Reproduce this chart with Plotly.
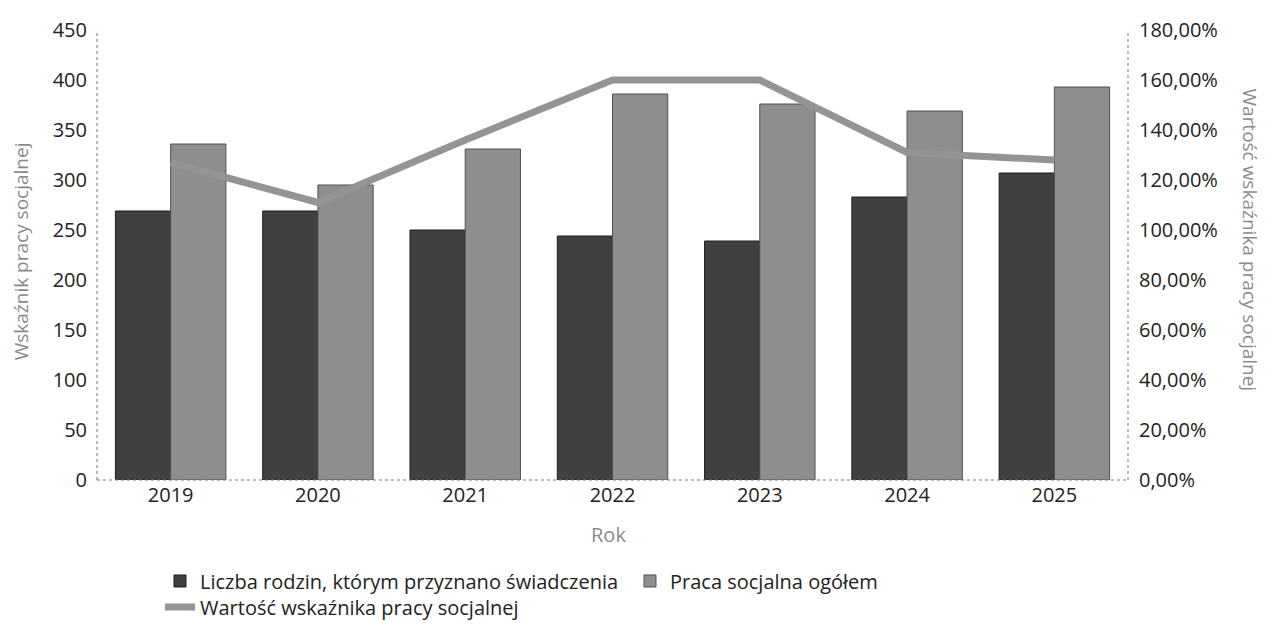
import plotly.graph_objects as go

# Dane.
lata = ['2019', '2020', '2021', '2022', '2023', '2024', '2025']
liczba_rodzin = [269, 269, 250, 244, 239, 283, 307]
praca_socjalna = [336, 295, 331, 386, 376, 369, 393]
wskaznik = [1.27, 1.11, 1.36, 1.60, 1.60, 1.31, 1.28]

font_family = 'Open Sans, Noto Sans, DejaVu Sans, sans-serif'
kolor_tytulu = '#8a8a8a'

fig = go.Figure()

fig.add_trace(go.Bar(
    x=lata,
    y=liczba_rodzin,
    name='Liczba rodzin, którym przyznano świadczenia',
    marker=dict(color='#404040', line=dict(color='#1e1e1e', width=1)),
    legend='legend',
))

fig.add_trace(go.Bar(
    x=lata,
    y=praca_socjalna,
    name='Praca socjalna ogółem',
    marker=dict(color='#8e8e8e', line=dict(color='#505050', width=1)),
    legend='legend',
))

fig.add_trace(go.Scatter(
    x=lata,
    y=wskaznik,
    name='Wartość wskaźnika pracy socjalnej',
    mode='lines',
    line=dict(color='#949494', width=7),
    yaxis='y2',
    legend='legend2',
))

# Strona ma 8 px marginesu body, więc wykres jest o 16 px mniejszy.
fig.update_layout(
    width=1263,
    height=613,
    margin=dict(l=89, r=143, t=22, b=141, autoexpand=False),
    paper_bgcolor='white',
    plot_bgcolor='white',
    separators=', ',
    barmode='group',
    bargap=0.25,
    bargroupgap=0,
    font=dict(family=font_family, size=20, color='#222222'),
    xaxis=dict(
        type='category',
        showgrid=False,
        showline=False,
        ticks='',
        tickfont=dict(size=20, color='#222222'),
        ticklabelstandoff=1,
    ),
    yaxis=dict(
        range=[0, 450],
        dtick=50,
        showgrid=False,
        showline=False,
        zeroline=False,
        ticks='',
        ticklabelstandoff=9,
        tickfont=dict(size=20, color='#222222'),
    ),
    yaxis2=dict(
        range=[0, 1.8],
        dtick=0.2,
        tickformat='.2%',
        overlaying='y',
        side='right',
        showgrid=False,
        showline=False,
        zeroline=False,
        ticks='',
        ticklabelstandoff=10,
        tickfont=dict(size=20, color='#222222'),
    ),
    legend=dict(
        orientation='h',
        x=0.0611,
        xanchor='left',
        y=-0.2244,
        yanchor='middle',
        entrywidth=425,
        itemclick=False,
        font=dict(size=20, color='#222222'),
        bgcolor='rgba(0,0,0,0)',
    ),
    legend2=dict(
        orientation='h',
        x=0.0611,
        xanchor='left',
        y=-0.2822,
        yanchor='middle',
        itemclick=False,
        font=dict(size=20, color='#222222'),
        bgcolor='rgba(0,0,0,0)',
    ),
    showlegend=True,
)

# Kropkowane linie osi.
for x0 in [0, 1]:
    fig.add_shape(type='line', xref='paper', yref='paper', x0=x0, x1=x0, y0=0, y1=1,
                  line=dict(color='#777777', width=1, dash='dot'))
fig.add_shape(type='line', xref='paper', yref='paper', x0=0, x1=1, y0=0, y1=0,
              line=dict(color='#777777', width=1, dash='dot'))

# Tytuły osi.
fig.add_annotation(text='Wskaźnik pracy socjalnej', xref='paper', yref='paper',
                   x=-0.0738, y=0.508, xanchor='center', yanchor='middle',
                   textangle=-90, showarrow=False,
                   font=dict(size=19, color=kolor_tytulu))
fig.add_annotation(text='Wartość wskaźnika pracy socjalnej', xref='paper', yref='paper',
                   x=1.118, y=0.533, xanchor='center', yanchor='middle',
                   textangle=90, showarrow=False,
                   font=dict(size=19, color=kolor_tytulu))
fig.add_annotation(text='Rok', xref='paper', yref='paper',
                   x=0.496, y=-0.122, xanchor='center', yanchor='middle',
                   showarrow=False,
                   font=dict(size=20, color=kolor_tytulu))

fig.write_html('out.html')
